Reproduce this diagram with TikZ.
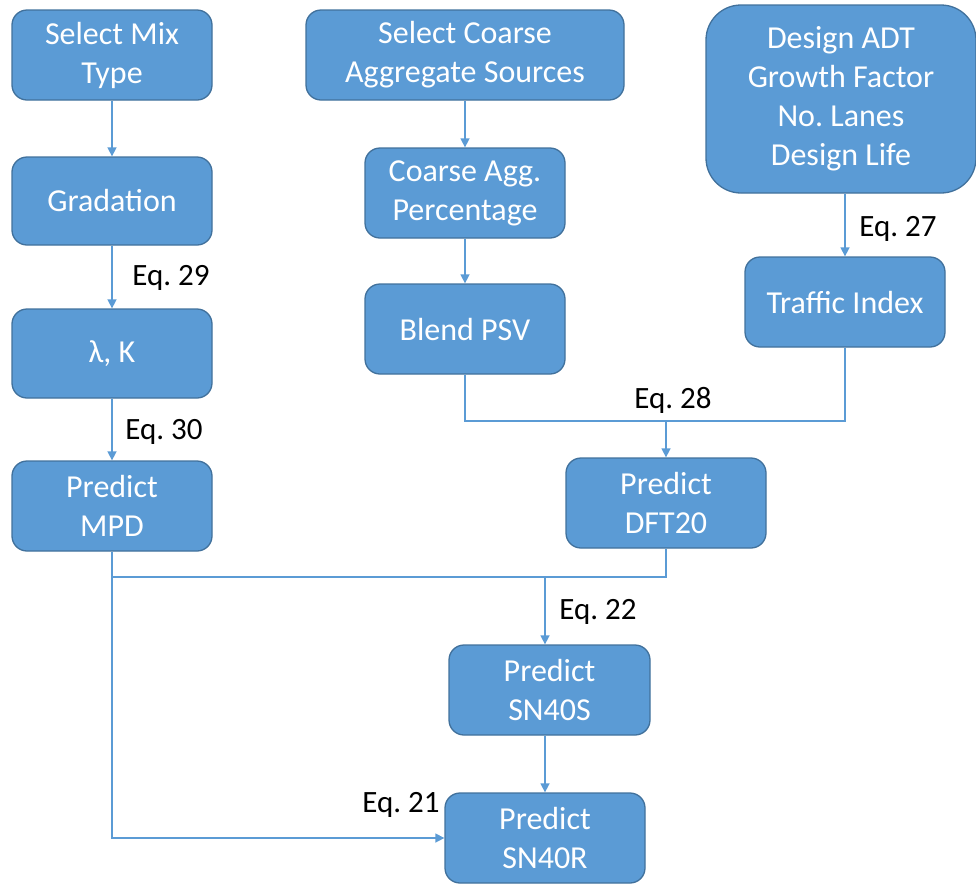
\documentclass[tikz,border=0pt]{standalone}
\usepackage{fontspec}
\setmainfont{Carlito}
\usetikzlibrary{arrows.meta}
\definecolor{boxfill}{HTML}{5B9BD5}
\definecolor{boxline}{HTML}{41719C}
\definecolor{conn}{HTML}{5B9BD5}
\tikzset{
  box/.style={draw=boxline, line width=1.3pt, fill=boxfill, rounded corners=15pt,
    text=white, align=center, inner sep=0pt,
    font=\fontsize{32}{39}\selectfont},
  conline/.style={draw=conn, line width=1.5pt},
  arr/.style={conline, -{Triangle[width=9pt,length=9pt]}},
  eqlabel/.style={text=black, font=\fontsize{31}{34}\selectfont, inner sep=0pt}
}
\begin{document}
\begin{tikzpicture}[x=1pt,y=-1pt]
\useasboundingbox (0,0) rectangle (976,884);
% left column
\node[box, minimum width=200pt, minimum height=90pt] (mix) at (112,55) {Select Mix\\Type};
\node[box, minimum width=200pt, minimum height=88pt] (grad) at (112,201) {Gradation};
\node[box, minimum width=200pt, minimum height=89pt] (lk) at (112,353.5) {λ, K};
\node[box, minimum width=200pt, minimum height=90pt] (mpd) at (112,506) {Predict\\MPD};
% middle column
\node[box, minimum width=318pt, minimum height=90pt] (coarse) at (465,55) {Select Coarse\\Aggregate Sources};
\node[box, minimum width=200pt, minimum height=90pt] (cagg) at (465,193) {Coarse Agg.\\Percentage};
\node[box, minimum width=200pt, minimum height=90pt] (psv) at (465,329) {Blend PSV};
% right column
\node[box, rounded corners=35pt, minimum width=270pt, minimum height=188pt] (adt) at (841,99) {Design ADT\\Growth Factor\\No.\ Lanes\\Design Life};
\node[box, minimum width=200pt, minimum height=90pt] (ti) at (845,302) {Traffic Index};
\node[box, minimum width=200pt, minimum height=90pt] (dft) at (666,503) {Predict\\DFT20};
% bottom
\node[box, minimum width=201pt, minimum height=90pt] (s40s) at (549.5,690) {Predict\\SN40S};
\node[box, minimum width=200pt, minimum height=90pt] (s40r) at (545,838) {Predict\\SN40R};
% junctions
\coordinate (j28) at (666,421);
\coordinate (j22) at (545,577);
% connectors
\draw[arr] (mix) -- (grad);
\draw[arr] (grad) -- (lk);
\draw[arr] (lk) -- (mpd);
\draw[arr] (coarse) -- (cagg);
\draw[arr] (cagg) -- (psv);
\draw[arr] (ti.north |- adt.south) -- (ti.north);
\draw[conline] (psv.south) |- (j28);
\draw[conline] (ti.south) |- (j28);
\draw[arr] (j28) -- (dft.north);
\draw[conline] (mpd.south) |- (j22);
\draw[conline] (dft.south) |- (j22);
\draw[arr] (j22) -- (j22 |- s40s.north);
\draw[arr] (j22 |- s40s.south) -- (s40r.north);
\draw[arr] (mpd.south) |- (s40r.west);
% labels
\node[eqlabel] (e29) at (171,278) {Eq.\ 29};
\node[eqlabel] (e30) at (164,432) {Eq.\ 30};
\node[eqlabel] (e27) at (898,229) {Eq.\ 27};
\node[eqlabel] (e28) at (673,400) {Eq.\ 28};
\node[eqlabel] (e22) at (598,612) {Eq.\ 22};
\node[eqlabel] (e21) at (401,805) {Eq.\ 21};
\end{tikzpicture}
\end{document}
